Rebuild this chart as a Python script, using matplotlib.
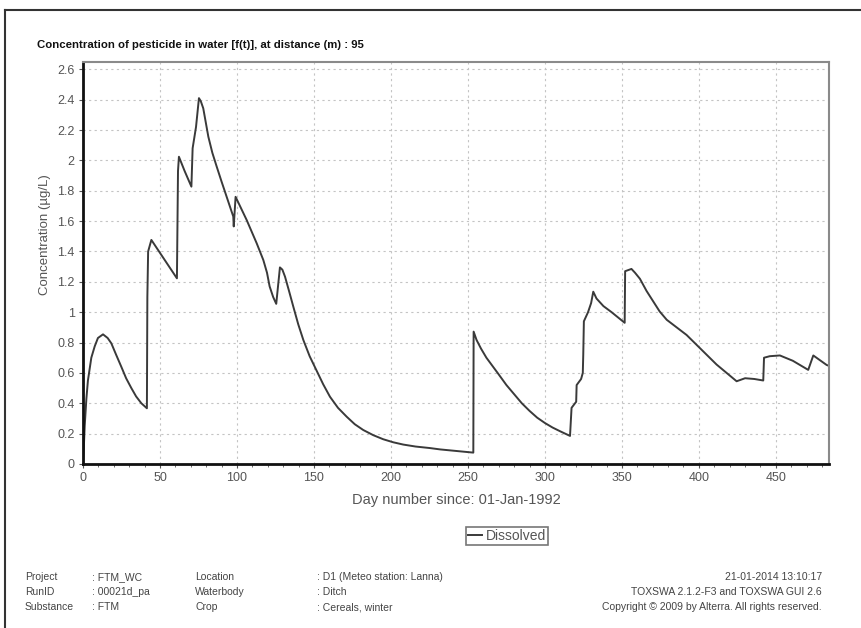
"""TOXSWA concentration of pesticide in water at 95 m."""

import matplotlib

matplotlib.use("Agg")

import matplotlib.pyplot as plt
from matplotlib.lines import Line2D
from matplotlib.ticker import MultipleLocator

# values
days = [0, 0.5, 1.1, 2.2, 3.2, 5.4, 7.6, 9.7, 13.0, 16.0, 18.4, 21.5, 24.9,
        28.0, 31.4, 34.5, 37.9, 41.5, 41.8, 42.3, 44.4, 61.0, 61.7, 62.3,
        66.0, 70.4, 71.2, 73.4, 75.3, 76.5, 78.1, 81.4, 84.0, 86.8, 90.0,
        93.3, 97.6, 97.9, 99.1, 101.0, 106.3, 112.8, 117.1, 119.5, 121.2,
        123.5, 125.5, 127.9, 129.5, 131.2, 133.8, 136.6, 139.8, 143.1, 147.2,
        151.7, 156.0, 160.4, 165.6, 171.2, 176.5, 182.0, 188.5, 195.0, 201.5,
        208.0, 216.0, 225.3, 232.0, 240.0, 247.0, 253.5, 253.7, 255.6, 258.5,
        262.0, 266.0, 270.0, 275.0, 280.0, 285.0, 290.0, 295.0, 300.0, 305.0,
        310.0, 316.3, 317.3, 319.5, 320.3, 320.6, 323.5, 324.6, 324.9, 325.3,
        328.0, 330.0, 331.4, 333.5, 338.0, 343.3, 351.8, 352.1, 356.2, 358.5,
        361.7, 366.0, 370.4, 374.5, 379.1, 385.5, 392.0, 398.5, 405.0, 411.5,
        418.0, 424.5, 430.0, 436.0, 441.8, 442.3, 446.0, 452.6, 461.0, 471.0,
        474.3, 483.0, 485.0]
conc = [0.0, 0.1, 0.25, 0.43, 0.55, 0.7, 0.775, 0.83, 0.854, 0.83, 0.795,
        0.72, 0.64, 0.565, 0.50, 0.445, 0.40, 0.367, 1.10, 1.40, 1.476, 1.223,
        1.93, 2.024, 1.93, 1.827, 2.08, 2.22, 2.41, 2.39, 2.343, 2.156, 2.05,
        1.96, 1.86, 1.76, 1.63, 1.565, 1.76, 1.72, 1.607, 1.454, 1.344, 1.26,
        1.17, 1.10, 1.055, 1.295, 1.28, 1.234, 1.14, 1.036, 0.92, 0.817, 0.71,
        0.615, 0.525, 0.443, 0.37, 0.312, 0.262, 0.224, 0.19, 0.163, 0.143,
        0.128, 0.115, 0.105, 0.096, 0.088, 0.081, 0.075, 0.872, 0.817, 0.76,
        0.70, 0.645, 0.59, 0.52, 0.46, 0.40, 0.35, 0.305, 0.27, 0.24, 0.215,
        0.185, 0.37, 0.40, 0.41, 0.52, 0.56, 0.60, 0.72, 0.94, 1.0, 1.06,
        1.135, 1.09, 1.04, 1.0, 0.93, 1.27, 1.285, 1.26, 1.22, 1.14, 1.07,
        1.005, 0.95, 0.90, 0.85, 0.785, 0.72, 0.655, 0.60, 0.545, 0.565, 0.56,
        0.55, 0.70, 0.71, 0.715, 0.68, 0.62, 0.715, 0.652, 0.645]

x_ticks = [0, 50, 100, 150, 200, 250, 300, 350, 400, 450]
y_ticks = [0, 0.2, 0.4, 0.6, 0.8, 1, 1.2, 1.4, 1.6, 1.8, 2, 2.2, 2.4, 2.6]
y_ticklabels = ["0", "0.2", "0.4", "0.6", "0.8", "1", "1.2", "1.4", "1.6",
                "1.8", "2", "2.2", "2.4", "2.6"]

footer_left = [("Project", ": FTM_WC", "Location", ": D1 (Meteo station: Lanna)"),
               ("RunID", ": 00021d_pa", "Waterbody", ": Ditch"),
               ("Substance", ": FTM", "Crop", ": Cereals, winter")]
footer_right = ["21-01-2014 13:10:17",
                "TOXSWA 2.1.2-F3 and TOXSWA GUI 2.6",
                "Copyright \u00a9 2009 by Alterra. All rights reserved."]

W, H = 861, 628
plt.rcParams["font.family"] = ["Liberation Sans", "DejaVu Sans"]

fig = plt.figure(figsize=(W / 100, H / 100), dpi=100)
ax = fig.add_axes([83 / W, 1 - 464 / H, (829 - 83) / W, (464 - 62) / H])

line, = ax.plot(days, conc, color="#3a3a3a", linewidth=1.4, label="Dissolved")

ax.set_xlim(0, 484.5)
ax.set_ylim(0, 2.648)
ax.set_xticks(x_ticks)
ax.xaxis.set_minor_locator(MultipleLocator(10))
ax.set_yticks(y_ticks)
ax.set_yticklabels(y_ticklabels)
ax.grid(True, which="major", color="#c4c4c4", linewidth=0.8,
        linestyle=(0, (2, 3)))
ax.tick_params(which="both", direction="out", colors="#555555",
               labelsize=9, length=3, pad=3)
ax.tick_params(which="minor", length=2)

for side in ("left", "bottom"):
    ax.spines[side].set_color("#111111")
    ax.spines[side].set_linewidth(2)
for side in ("top", "right"):
    ax.spines[side].set_color("#8a8a8a")
    ax.spines[side].set_linewidth(1.5)

fig.text(37 / W, 1 - 45 / H,
         "Concentration of pesticide in water [f(t)], at distance (m) : 95",
         fontsize=8.2, fontweight="bold", color="#111111", va="center",
         family=["Liberation Sans Narrow", "Liberation Sans"])
fig.text(45 / W, 1 - 235 / H, "Concentration (\u00b5g/L)", rotation=90,
         fontsize=9.5, color="#555555", ha="center", va="center")
fig.text(456 / W, 1 - 500 / H, "Day number since: 01-Jan-1992",
         fontsize=10.5, color="#555555", ha="center", va="center")

leg = ax.legend(handles=[line], loc="center",
                bbox_to_anchor=(507 / W, 1 - 536 / H),
                bbox_transform=fig.transFigure, fancybox=False,
                edgecolor="#777777", framealpha=1, fontsize=10,
                handlelength=1.0, handletextpad=0.3, borderpad=0.15,
                borderaxespad=0)
for t in leg.get_texts():
    t.set_color("#555555")
leg.get_frame().set_linewidth(1.2)

col_x = [25, 92, 195, 317]
row_y = [580, 595, 610]
for y, row in zip(row_y, footer_left):
    for x, s in zip(col_x, row):
        fig.text(x / W, 1 - y / H, s, fontsize=7.5, color="#444444",
                 va="baseline")
for y, s in zip(row_y, footer_right):
    fig.text(822 / W, 1 - y / H, s, fontsize=7.5, color="#444444",
             va="baseline", ha="right")

# outer frame of the report panel
fig.add_artist(Line2D([5 / W, 1], [1 - 10 / H] * 2, color="#333333",
                      linewidth=1.5, transform=fig.transFigure))
fig.add_artist(Line2D([5 / W] * 2, [0, 1 - 10 / H], color="#333333",
                      linewidth=1.5, transform=fig.transFigure))

fig.savefig("out.png", dpi=100)
plt.close(fig)
